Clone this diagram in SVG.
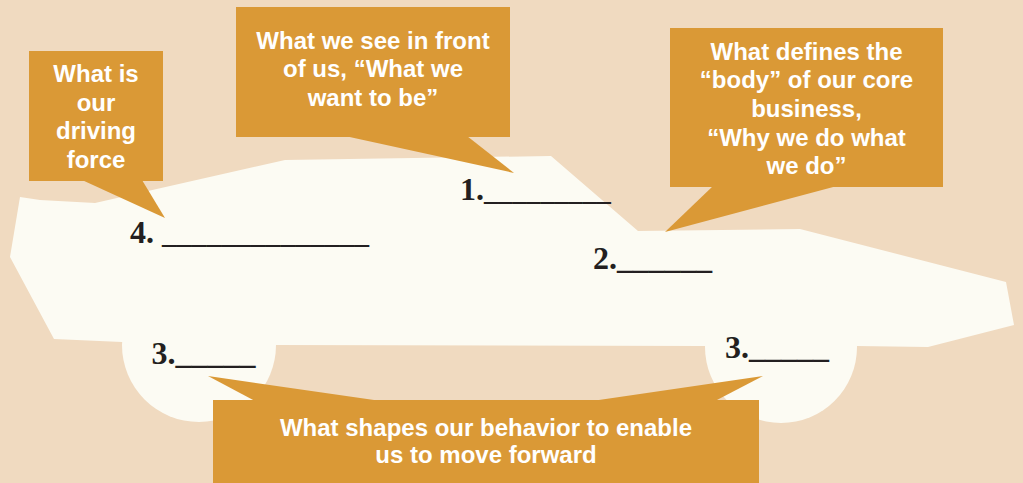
<svg xmlns="http://www.w3.org/2000/svg" width="1023" height="483" viewBox="0 0 1023 483">
<style>
.bg{fill:#F0DAC0}
.body{fill:#FCFBF3}
.box{fill:#DA9936}
.ct{font-family:"Liberation Sans",Arial,sans-serif;font-weight:bold;font-size:24px;fill:#FFFFFF;text-anchor:middle}
.num{font-family:"Liberation Serif","Times New Roman",serif;font-weight:bold;font-size:32px;fill:#231F20}
</style>
<rect class="bg" x="0" y="0" width="1023" height="483"/>
<g id="car">
<polygon class="body" points="20,197 40,200 95,203 285,160 551,156 638,231 800,229 1006,282 1014,325 928,347 857,346 705,346 276,345 122,342 54,339 10,257"/>
<circle class="body" cx="199" cy="345" r="77"/>
<circle class="body" cx="781" cy="347" r="76"/>
</g>
<g id="connectors">
<polygon class="box" points="82,180 142,180 165,218"/>
<polygon class="box" points="345,136 467,136 514,173"/>
<polygon class="box" points="713,186 837,186 665,232"/>
<polygon class="box" points="255,401 381,401 208,376"/>
<polygon class="box" points="592,401 715,401 763,376"/>
</g>
<g id="callout-driving-force">
<rect class="box" x="29" y="51" width="134" height="130"/>
<text class="ct"><tspan x="96" y="82">What is</tspan><tspan x="96" y="110.7">our</tspan><tspan x="96" y="139.4">driving</tspan><tspan x="96" y="168.1">force</tspan></text>
</g>
<g id="callout-want-to-be">
<rect class="box" x="236" y="7" width="274" height="130"/>
<text class="ct"><tspan x="373" y="48.5">What we see in front</tspan><tspan x="373" y="77.2">of us, “What we</tspan><tspan x="373" y="105.9">want to be”</tspan></text>
</g>
<g id="callout-core-business">
<rect class="box" x="670" y="28" width="273" height="159"/>
<text class="ct"><tspan x="806.5" y="59.5">What defines the</tspan><tspan x="806.5" y="88.2">“body” of our core</tspan><tspan x="806.5" y="116.9">business,</tspan><tspan x="806.5" y="145.6">“Why we do what</tspan><tspan x="806.5" y="174.3">we do”</tspan></text>
</g>
<g id="callout-behavior">
<rect class="box" x="213" y="400" width="546" height="83"/>
<text class="ct"><tspan x="486" y="436">What shapes our behavior to enable</tspan><tspan x="486" y="463">us to move forward</tspan></text>
</g>
<g id="labels">
<text class="num" x="460" y="199.5">1.<tspan style="font-size:28.2px">_________</tspan></text>
<text class="num" x="130" y="242.5">4. <tspan style="font-size:29.6px">______________</tspan></text>
<text class="num" x="593" y="268.5">2.<tspan style="font-size:31.7px">______</tspan></text>
<text class="num" x="151.5" y="363.5">3.<tspan style="font-size:32px">_____</tspan></text>
<text class="num" x="725" y="357.5">3.<tspan style="font-size:32px">_____</tspan></text>
</g>
</svg>
